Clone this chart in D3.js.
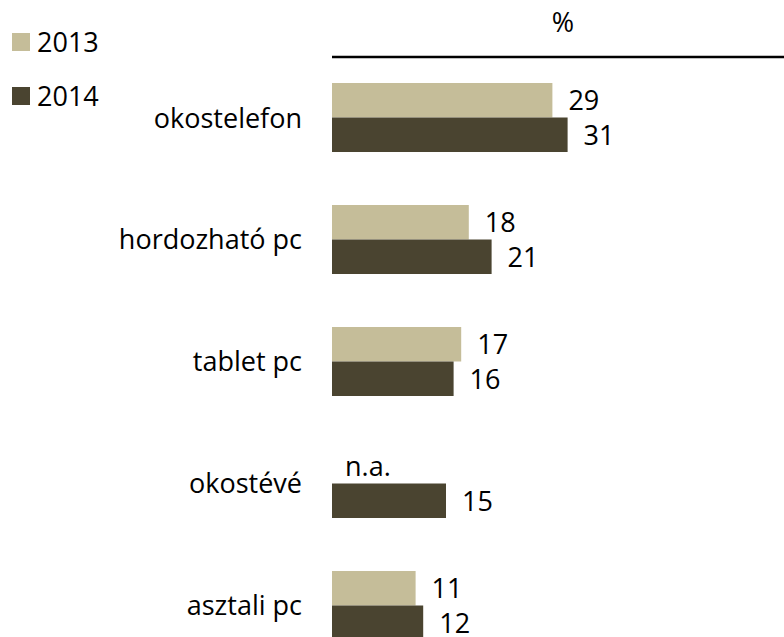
<!DOCTYPE html>
<html>
<head>
<meta charset="utf-8">
<script src="https://cdn.jsdelivr.net/npm/d3@7"></script>
<style>
  html,body{margin:0;padding:0;background:#fff;}
  svg{display:block;font-family:"Open Sans",sans-serif;}
</style>
</head>
<body>
<svg id="chart" width="784" height="637"></svg>
<script>
// data
var categories=['okostelefon','hordozható pc','tablet pc','okostévé','asztali pc'];
var years=['2013','2014'];
var values2013=[29,18,17,null,11];
var values2014=[31,21,16,15,12];
var colors=['#c5bd99','#4a4430'];

var W=784, H=637;
var svg=d3.select('#chart');

var rows=categories.map(function(c,i){return {cat:c,vals:[values2013[i],values2014[i]]};});

var y=d3.scaleBand().domain(categories).range([83,640]).paddingInner(0.4344).paddingOuter(0);
var y1=d3.scaleBand().domain(years).range([0,y.bandwidth()]).padding(0);
var x=d3.scaleLinear().domain([0,40]).range([332,636]);

// top rule + unit
svg.append('line').attr('x1',x(0)).attr('x2',W).attr('y1',57).attr('y2',57)
  .attr('stroke','#000').attr('stroke-width',2.5);
svg.append('text').attr('x',563).attr('y',32).attr('text-anchor','middle')
  .attr('font-size','27px').attr('fill','#000').text('%');

// legend
years.forEach(function(yr,i){
  var ly=33+i*54;
  svg.append('rect').attr('x',12).attr('y',ly).attr('width',18).attr('height',18).attr('fill',colors[i]);
  svg.append('text').attr('x',37).attr('y',ly+19).attr('font-size','27px').attr('fill','#000').text(yr);
});

var g=svg.selectAll('g.row').data(rows).enter().append('g').attr('class','row')
  .attr('transform',function(d){return 'translate(0,'+y(d.cat)+')';});

g.append('text').attr('x',302).attr('y',y.bandwidth()/2+10).attr('text-anchor','end')
  .attr('font-size','27px').attr('fill','#000').text(function(d){return d.cat;});

g.each(function(d){
  var gg=d3.select(this);
  d.vals.forEach(function(v,i){
    var by=y1(years[i]);
    if(v==null){
      gg.append('text').attr('x',x(0)+13).attr('y',by+y1.bandwidth()/2+10)
        .attr('font-size','27px').attr('fill','#000').text('n.a.');
      return;
    }
    gg.append('rect').attr('x',x(0)).attr('y',by).attr('width',x(v)-x(0)).attr('height',y1.bandwidth())
      .attr('fill',colors[i]);
    gg.append('text').attr('x',x(v)+16).attr('y',by+y1.bandwidth()/2+10)
      .attr('font-size','27px').attr('fill','#000').text(v);
  });
});
</script>
</body>
</html>
